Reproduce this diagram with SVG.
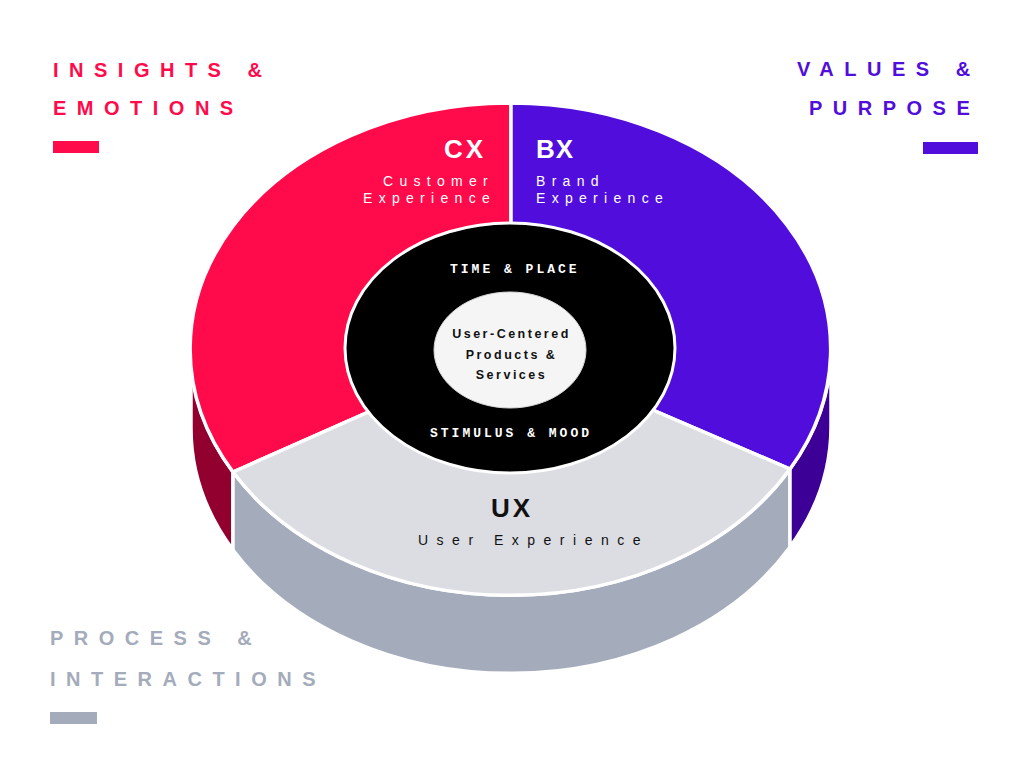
<svg xmlns="http://www.w3.org/2000/svg" width="1024" height="768" viewBox="0 0 1024 768">
<style>
.lbl{font-family:"Liberation Sans",Arial,sans-serif;font-weight:700;font-size:20px;letter-spacing:10.5px}
.big{font-family:"Liberation Sans",Arial,sans-serif;font-weight:700;font-size:26px}
.sub{font-family:"Liberation Sans",Arial,sans-serif;font-size:14px;letter-spacing:6.3px;fill:#fff}
.mono{font-family:"Liberation Mono","DejaVu Sans Mono",monospace;font-weight:700;font-size:13px;letter-spacing:3px;fill:#fff}
.core{font-family:"Liberation Sans",Arial,sans-serif;font-weight:700;font-size:12.5px;letter-spacing:2.5px;fill:#111}
.face{stroke:#fff;stroke-width:3.5;stroke-linejoin:round}
</style>
<rect width="1024" height="768" fill="#fff"/>

<g id="sides">
  <path class="face" d="M191,349 A320,246 0 0 0 233,472 L233,550 A320,246 0 0 1 191,427 Z" fill="#92002f"/>
  <path class="face" d="M233,472 A320,246 0 0 0 790,469 L790,547 A320,246 0 0 1 233,550 Z" fill="#a4abbb"/>
  <path class="face" d="M790,469 A320,246 0 0 0 831,349 L831,427 A320,246 0 0 1 790,547 Z" fill="#3c0097"/>
</g>

<g id="cx">
  <path class="face" d="M511,349 L511,103 A320,246 0 0 0 233,472 Z" fill="#ff0a4b"/>
  <text class="big" x="444" y="158" fill="#fff" letter-spacing="3">CX</text>
  <text class="sub" x="383" y="186">Customer</text>
  <text class="sub" x="363" y="203">Experience</text>
</g>

<g id="bx">
  <path class="face" d="M511,349 L511,103 A320,246 0 0 1 790,469 Z" fill="#500ddc"/>
  <text class="big" x="536" y="158" fill="#fff" letter-spacing="1">BX</text>
  <text class="sub" x="536" y="186">Brand</text>
  <text class="sub" x="536" y="203">Experience</text>
</g>

<g id="ux">
  <path class="face" d="M511,349 L233,472 A320,246 0 0 0 790,469 Z" fill="#dcdde2"/>
  <text class="big" x="491" y="517" fill="#111" letter-spacing="3">UX</text>
  <text x="418" y="545" font-family="Liberation Sans, Arial, sans-serif" font-size="14" letter-spacing="8.5" fill="#111">User Experience</text>
</g>

<g id="context">
  <ellipse cx="510" cy="348" rx="165" ry="125" fill="#000" stroke="#fff" stroke-width="3"/>
  <text class="mono" x="450" y="273">TIME &amp; PLACE</text>
  <text class="mono" x="430" y="437">STIMULUS &amp; MOOD</text>
</g>

<g id="core">
  <ellipse cx="510" cy="350" rx="76" ry="58" fill="#f5f5f5" stroke="#d8d8d8" stroke-width="1"/>
  <text class="core" x="511.5" y="338" text-anchor="middle">User-Centered</text>
  <text class="core" x="511.5" y="359" text-anchor="middle">Products &amp;</text>
  <text class="core" x="511.5" y="379" text-anchor="middle">Services</text>
</g>

<g id="connectors"></g>

<g id="label-insights">
  <text class="lbl" x="53" y="77" fill="#ff0a4b">INSIGHTS &amp;</text>
  <text class="lbl" x="53" y="115" fill="#ff0a4b">EMOTIONS</text>
  <rect x="53" y="141" width="46" height="12" fill="#ff0a4b"/>
</g>

<g id="label-values">
  <text class="lbl" x="797" y="76" fill="#500ddc">VALUES &amp;</text>
  <text class="lbl" x="809" y="115" fill="#500ddc">PURPOSE</text>
  <rect x="923" y="142" width="55" height="12" fill="#500ddc"/>
</g>

<g id="label-process">
  <text class="lbl" x="50" y="645" fill="#a4abbb">PROCESS &amp;</text>
  <text class="lbl" x="50" y="686" fill="#a4abbb">INTERACTIONS</text>
  <rect x="50" y="712" width="47" height="12" fill="#a4abbb"/>
</g>
</svg>
